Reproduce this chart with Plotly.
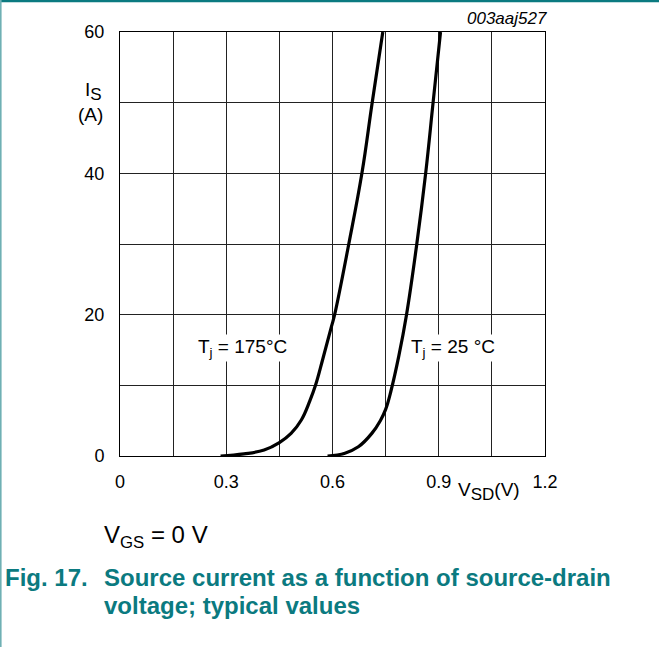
import plotly.graph_objects as go

# Data
v_175 = [0.284, 0.35, 0.407, 0.45, 0.483, 0.512, 0.536, 0.552, 0.573, 0.597, 0.606, 0.646, 0.683, 0.712, 0.742]
i_175 = [0.0, 0.3, 0.85, 1.9, 3.2, 5.1, 7.8, 10.0, 13.8, 18.3, 20.0, 30.0, 40.0, 50.0, 60.0]
v_25 = [0.586, 0.635, 0.673, 0.711, 0.735, 0.75, 0.765, 0.787, 0.809, 0.838, 0.863, 0.884, 0.905]
i_25 = [0.0, 0.4, 1.3, 3.2, 5.0, 6.6, 9.2, 14.1, 20.0, 30.0, 40.0, 50.0, 60.0]

x_grid = [0, 0.15, 0.3, 0.45, 0.6, 0.75, 0.9, 1.05, 1.2]
x_labels = ["0", "", "0.3", "", "0.6", "", "0.9", "", "1.2"]
y_grid = [0, 10, 20, 30, 40, 50, 60]
y_labels = ["0", "", "20", "", "40", "", "60"]

FONT = "Liberation Sans, Arial, sans-serif"
TEAL = "#0b7a80"

L, T, PW, PH = 120, 32, 425, 424

fig = go.Figure()
for vx, iy in [(v_175, i_175), (v_25, i_25)]:
    fig.add_trace(go.Scatter(x=vx, y=iy, mode="lines",
                             line=dict(color="black", width=3.2, shape="spline", smoothing=1.2),
                             showlegend=False, hoverinfo="skip"))

fig.update_layout(
    width=659, height=647,
    margin=dict(l=L, r=659 - L - PW, t=T, b=647 - T - PH),
    paper_bgcolor="white", plot_bgcolor="white",
    font=dict(family=FONT, size=18, color="black"),
    xaxis=dict(range=[0, 1.2], tickvals=x_grid, ticktext=x_labels,
               showgrid=True, gridcolor="#222", gridwidth=1,
               showline=True, linecolor="black", linewidth=1, mirror=True,
               zeroline=False, ticks="", ticklabelstandoff=9,
               tickfont=dict(size=18, family=FONT)),
    yaxis=dict(range=[0, 60], tickvals=y_grid, ticktext=y_labels,
               showgrid=True, gridcolor="#222", gridwidth=1,
               showline=True, linecolor="black", linewidth=1, mirror=True,
               zeroline=False, ticks="", ticklabelstandoff=11,
               tickfont=dict(size=18, family=FONT)),
)


def px(x):
    return (x - L) / PW


def py(y):
    return (T + PH - y) / PH


# frame lines
fig.add_shape(type="line", xref="paper", yref="paper", x0=px(0), x1=px(659),
              y0=py(1), y1=py(1), line=dict(color=TEAL, width=2.5))
fig.add_shape(type="line", xref="paper", yref="paper", x0=px(0.8), x1=px(0.8),
              y0=py(647), y1=py(0), line=dict(color="#6fb0b4", width=1.6))

SUB = '<span style="font-size:17px">'
ann = []
ann.append(dict(x=0.347, y=15.3, xref="x", yref="y", text="T<sub>j</sub> = 175°C",
                showarrow=False, bgcolor="white", font=dict(size=19, family=FONT)))
ann.append(dict(x=0.94, y=15.3, xref="x", yref="y", text="T<sub>j</sub> = 25 °C",
                showarrow=False, bgcolor="white", font=dict(size=19, family=FONT)))
ann.append(dict(x=px(549), y=py(18), xref="paper", yref="paper",
                text="<i>003aaj527</i>", showarrow=False, xanchor="right", yanchor="middle",
                font=dict(size=17, family=FONT)))
ann.append(dict(x=px(93), y=py(92), xref="paper", yref="paper",
                text="I<sub>" + SUB + "S</span></sub>", showarrow=False, xanchor="center",
                yanchor="middle", font=dict(size=19, family=FONT)))
ann.append(dict(x=px(90), y=py(114), xref="paper", yref="paper",
                text="(A)", showarrow=False, xanchor="center", yanchor="middle",
                font=dict(size=19, family=FONT)))
ann.append(dict(x=px(489), y=py(491), xref="paper", yref="paper",
                text="V<sub>" + SUB + "SD</span></sub>(V)", showarrow=False, xanchor="center",
                yanchor="middle", font=dict(size=19, family=FONT)))
ann.append(dict(x=px(102), y=py(536), xref="paper", yref="paper",
                text="V<sub>GS</sub> = 0 V", showarrow=False, xanchor="left", yanchor="middle",
                font=dict(size=24, family=FONT)))
ann.append(dict(x=px(3), y=py(577), xref="paper", yref="paper",
                text="<b>Fig. 17.</b>", showarrow=False, xanchor="left", yanchor="middle",
                font=dict(size=24, family=FONT, color=TEAL)))
ann.append(dict(x=px(102), y=py(577), xref="paper", yref="paper",
                text="<b>Source current as a function of source-drain</b>", showarrow=False,
                xanchor="left", yanchor="middle",
                font=dict(size=24, family=FONT, color=TEAL)))
ann.append(dict(x=px(102), y=py(605), xref="paper", yref="paper",
                text="<b>voltage; typical values</b>", showarrow=False,
                xanchor="left", yanchor="middle",
                font=dict(size=24, family=FONT, color=TEAL)))
fig.update_layout(annotations=ann)

fig.write_html("out.html", config={"displayModeBar": False},
               post_script="document.body.style.margin='0';document.body.style.overflow='hidden';")
